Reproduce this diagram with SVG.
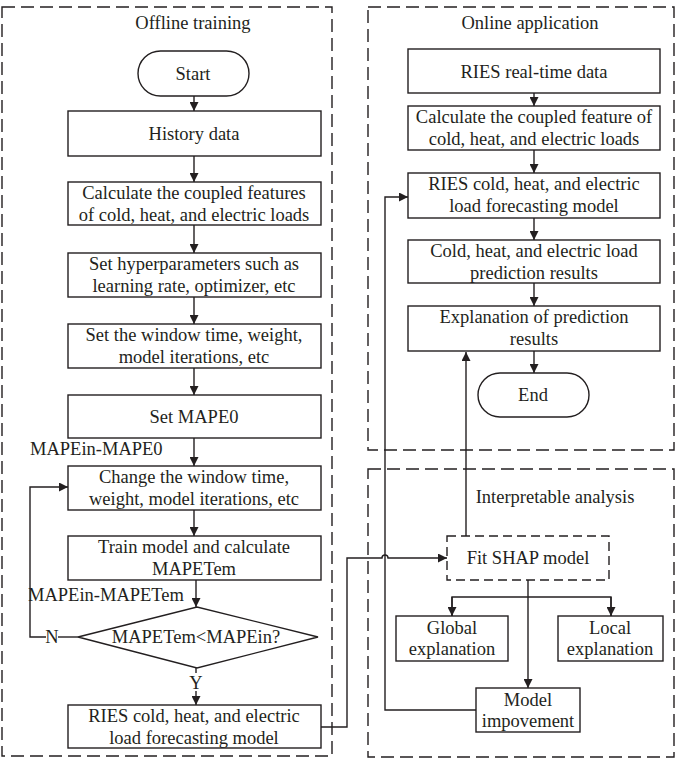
<svg xmlns="http://www.w3.org/2000/svg" width="685" height="760" viewBox="0 0 685 760">
<defs>
<marker id="ah" viewBox="0 0 10 10" refX="10" refY="5" markerWidth="9" markerHeight="9" markerUnits="userSpaceOnUse" orient="auto">
<path d="M0,0 L10,5 L0,10 z" fill="#231f20"/>
</marker>
<style>
.box{fill:#fff;stroke:#231f20;stroke-width:1.4}
.frame{fill:none;stroke:#231f20;stroke-width:1.4;stroke-dasharray:13 6}
.dbox{fill:#fff;stroke:#231f20;stroke-width:1.4;stroke-dasharray:9 5}
.ln{fill:none;stroke:#231f20;stroke-width:1.4}
.ar{fill:none;stroke:#231f20;stroke-width:1.4;marker-end:url(#ah)}
text{font-family:"Liberation Serif","Times New Roman",serif;font-size:18.5px;fill:#231f20;text-anchor:middle}
.l{text-anchor:start}
</style>
</defs>
<rect width="685" height="760" fill="#fff"/>

<g id="frames">
<rect class="frame" x="2" y="7" width="330" height="749"/>
<rect class="frame" x="368" y="7" width="306" height="443"/>
<rect class="frame" x="368" y="469" width="306" height="288"/>
<text x="193" y="29">Offline training</text>
<text x="530" y="29">Online application</text>
<text x="555" y="503">Interpretable analysis</text>
</g>

<g id="connectors">
<line class="ar" x1="194" y1="96" x2="194" y2="111"/>
<line class="ar" x1="194" y1="156" x2="194" y2="182"/>
<line class="ar" x1="194" y1="225" x2="194" y2="253"/>
<line class="ar" x1="194" y1="297" x2="194" y2="324"/>
<line class="ar" x1="194" y1="368" x2="194" y2="395"/>
<line class="ar" x1="194" y1="438" x2="194" y2="466"/>
<line class="ar" x1="194" y1="510" x2="194" y2="536"/>
<line class="ar" x1="196" y1="580" x2="196" y2="607"/>
<line class="ln" x1="196" y1="668" x2="196" y2="673"/>
<line class="ar" x1="196" y1="691" x2="196" y2="705"/>
<polyline class="ln" points="78,637 58,637"/>
<polyline class="ar" points="46,637 30,637 30,487 68,487"/>
<path class="ar" d="M321,727 H347 V558 H382 A3,3 0 0 1 388,558 H447"/>
<line class="ar" x1="466" y1="536" x2="466" y2="352"/>
<line class="ar" x1="528" y1="580" x2="528" y2="688"/>
<polyline class="ln" points="452,616 452,597 611,597 611,616"/>
<line class="ar" x1="452" y1="597" x2="452" y2="616"/>
<line class="ar" x1="611" y1="597" x2="611" y2="616"/>
<polyline class="ar" points="476,710 385,710 385,197 408,197"/>
<line class="ar" x1="534" y1="93" x2="534" y2="106"/>
<line class="ar" x1="534" y1="150" x2="534" y2="173"/>
<line class="ar" x1="534" y1="218" x2="534" y2="240"/>
<line class="ar" x1="534" y1="283" x2="534" y2="306"/>
<line class="ar" x1="534" y1="351" x2="534" y2="373"/>
<text class="l" x="30" y="455">MAPEin-MAPE0</text>
<text class="l" x="28" y="601">MAPEin-MAPETem</text>
<text x="52" y="643">N</text>
<text x="196" y="689">Y</text>
</g>

<g id="start"><rect class="box" x="138" y="51" width="111" height="45" rx="22.5"/><text x="193" y="80">Start</text></g>
<g id="history"><rect class="box" x="68" y="111" width="253" height="45"/><text x="194" y="140">History data</text></g>
<g id="calc"><rect class="box" x="68" y="182" width="253" height="43"/><text x="194" y="199">Calculate the coupled features</text><text x="194" y="221">of cold, heat, and electric loads</text></g>
<g id="hyper"><rect class="box" x="68" y="253" width="253" height="44"/><text x="194" y="270">Set hyperparameters such as</text><text x="194" y="292">learning rate, optimizer, etc</text></g>
<g id="window"><rect class="box" x="68" y="324" width="253" height="44"/><text x="194" y="341">Set the window time, weight,</text><text x="194" y="363">model iterations, etc</text></g>
<g id="mape0"><rect class="box" x="68" y="395" width="253" height="43"/><text x="194" y="423">Set MAPE0</text></g>
<g id="change"><rect class="box" x="68" y="466" width="253" height="44"/><text x="194" y="483">Change the window time,</text><text x="194" y="505">weight, model iterations, etc</text></g>
<g id="train"><rect class="box" x="68" y="536" width="253" height="44"/><text x="194" y="553">Train model and calculate</text><text x="194" y="575">MAPETem</text></g>
<g id="decision"><polygon class="box" points="78,637 197,607 318,637 197,668"/><text x="196" y="643">MAPETem&lt;MAPEin?</text></g>
<g id="ries-left"><rect class="box" x="68" y="705" width="253" height="43"/><text x="194" y="722">RIES cold, heat, and electric</text><text x="194" y="744">load forecasting model</text></g>

<g id="realtime"><rect class="box" x="408" y="49" width="252" height="44"/><text x="534" y="78">RIES real-time data</text></g>
<g id="calc-online"><rect class="box" x="408" y="106" width="252" height="44"/><text x="534" y="123">Calculate the coupled feature of</text><text x="534" y="145">cold, heat, and electric loads</text></g>
<g id="ries-online"><rect class="box" x="408" y="173" width="252" height="45"/><text x="534" y="190">RIES cold, heat, and electric</text><text x="534" y="212">load forecasting model</text></g>
<g id="results"><rect class="box" x="408" y="240" width="252" height="43"/><text x="534" y="257">Cold, heat, and electric load</text><text x="534" y="279">prediction  results</text></g>
<g id="explain"><rect class="box" x="408" y="306" width="252" height="45"/><text x="534" y="323">Explanation of prediction</text><text x="534" y="345">results</text></g>
<g id="end"><rect class="box" x="478" y="373" width="111" height="44" rx="22"/><text x="533" y="401">End</text></g>

<g id="shap"><rect class="dbox" x="447" y="536" width="162" height="44"/><text x="528" y="564">Fit SHAP model</text></g>
<g id="global"><rect class="box" x="396" y="616" width="112" height="45"/><text x="452" y="634">Global</text><text x="452" y="655">explanation</text></g>
<g id="local"><rect class="box" x="558" y="616" width="105" height="45"/><text x="610" y="634">Local</text><text x="610" y="655">explanation</text></g>
<g id="improve"><rect class="box" x="476" y="688" width="104" height="44"/><text x="528" y="706">Model</text><text x="528" y="727">impovement</text></g>
</svg>
